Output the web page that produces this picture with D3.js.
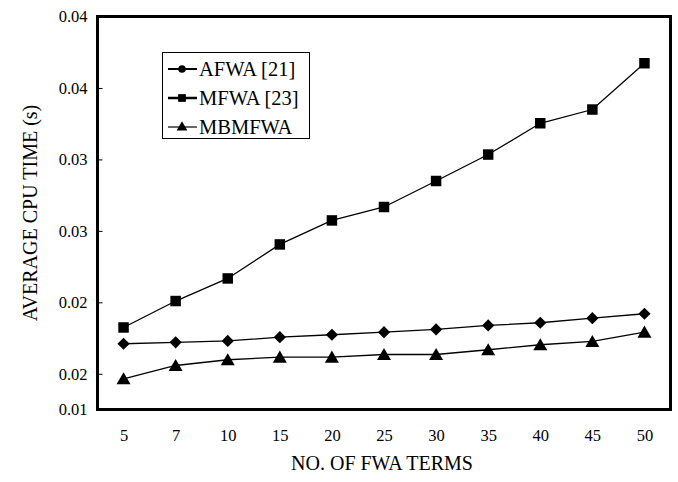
<!DOCTYPE html>
<html>
<head>
<meta charset="utf-8">
<script src="https://cdn.jsdelivr.net/npm/d3@7"></script>
<style>
  html, body { margin: 0; padding: 0; background: #fff; }
  svg { display: block; }
  svg text { font-family: "Liberation Serif", "Times New Roman", "DejaVu Serif", serif !important; }
</style>
</head>
<body>
<svg id="chart" width="678" height="482"></svg>
<script>
// ---- data ----
const categories = ["5", "7", "10", "15", "20", "25", "30", "35", "40", "45", "50"];
const afwa    = [0.0171, 0.0172, 0.0173, 0.01756, 0.01773, 0.01791, 0.0181, 0.01838, 0.01857, 0.01889, 0.0192];
const mfwa    = [0.01824, 0.02009, 0.02167, 0.02405, 0.02573, 0.02667, 0.02849, 0.03034, 0.03253, 0.03349, 0.03673];
const mbmfwa  = [0.01465, 0.01558, 0.01598, 0.01616, 0.01616, 0.01635, 0.01635, 0.01668, 0.01703, 0.01726, 0.01791];
const seriesNames = ["AFWA [21]", "MFWA [23]", "MBMFWA"];
const yTickValues = [0.0125, 0.015, 0.02, 0.025, 0.03, 0.035, 0.04];
const yTickLabels = ["0.01", "0.02", "0.02", "0.03", "0.03", "0.04", "0.04"];
const xTitle = "NO. OF FWA TERMS";
const yTitle = "AVERAGE CPU TIME (s)";

const FONT = "'Liberation Serif', 'Times New Roman', serif";

// ---- layout ----
const svg = d3.select("#chart");
const L = 97.5, R = 670.5, T = 16.5, B = 409.5;

const x = d3.scalePoint().domain(categories).range([L, R]).padding(0.5);
const y = d3.scaleLinear().domain([0.0125, 0.04]).range([B, T]);

// y axis (inner ticks)
const yAxis = d3.axisLeft(y)
  .tickValues(yTickValues)
  .tickSize(-5)
  .tickPadding(10)
  .tickFormat((d, i) => yTickLabels[i]);
const gy = svg.append("g").attr("transform", `translate(${L},0)`).call(yAxis)
  .attr("font-family", FONT);
gy.select(".domain").remove();
gy.selectAll(".tick line").attr("stroke", "#000").attr("stroke-width", 1);
gy.selectAll(".tick text").attr("font-size", 16.5).attr("fill", "#000")
  .attr("font-family", FONT);

// x axis
const xAxis = d3.axisBottom(x).tickSize(0).tickPadding(20);
const gx = svg.append("g").attr("transform", `translate(0,${B})`).call(xAxis)
  .attr("font-family", FONT);
gx.select(".domain").remove();
gx.selectAll(".tick text").attr("font-size", 16.5).attr("fill", "#000")
  .attr("font-family", FONT);

// plot frame
svg.append("rect")
  .attr("x", L).attr("y", T).attr("width", R - L).attr("height", B - T)
  .attr("fill", "none").attr("stroke", "#000").attr("stroke-width", 3);

// axis titles
svg.append("text")
  .attr("x", (L + R) / 2 - 2).attr("y", 470)
  .attr("text-anchor", "middle").attr("font-size", 20).attr("fill", "#000")
  .attr("font-family", FONT)
  .text(xTitle);
svg.append("text")
  .attr("transform", `translate(37,${(T + B) / 2}) rotate(-90)`)
  .attr("text-anchor", "middle").attr("font-size", 20).attr("fill", "#000")
  .attr("font-family", FONT)
  .text(yTitle);

// ---- series ----
const symbols = [d3.symbolDiamond2, d3.symbolSquare, d3.symbolTriangle];
const symSizes = [95, 110, 85];
const allSeries = [afwa, mfwa, mbmfwa];

const line = d3.line().x((d, i) => x(categories[i])).y(d => y(d));

allSeries.forEach((vals, si) => {
  svg.append("path")
    .datum(vals)
    .attr("fill", "none").attr("stroke", "#000").attr("stroke-width", 1.3)
    .attr("d", line);
  svg.append("g").selectAll("path")
    .data(vals)
    .join("path")
    .attr("transform", (d, i) => `translate(${x(categories[i])},${y(d) + (si === 2 ? 1.5 : 0)})`)
    .attr("d", d3.symbol().type(symbols[si]).size(symSizes[si]))
    .attr("fill", "#000");
});

// ---- legend ----
const lg = svg.append("g");
lg.append("rect")
  .attr("x", 162.5).attr("y", 52.5).attr("width", 147).attr("height", 86)
  .attr("fill", "#fff").attr("stroke", "#000").attr("stroke-width", 1);
const legendSym = [d3.symbolCircle, d3.symbolSquare, d3.symbolTriangle];
const legendSizes = [45, 60, 50];
const legendStroke = [2, 2.5, 1.2];
seriesNames.forEach((name, i) => {
  const cy = 69 + i * 29;
  lg.append("line")
    .attr("x1", 168).attr("x2", 197).attr("y1", cy).attr("y2", cy)
    .attr("stroke", "#000").attr("stroke-width", legendStroke[i]);
  lg.append("path")
    .attr("transform", `translate(182,${cy + (i === 2 ? 0.5 : 0)})`)
    .attr("d", d3.symbol().type(legendSym[i]).size(legendSizes[i]))
    .attr("fill", "#000");
  lg.append("text")
    .attr("x", 199).attr("y", cy).attr("dy", "0.35em")
    .attr("font-size", 20.5).attr("fill", "#000")
    .attr("font-family", FONT)
    .text(name);
});
</script>
</body>
</html>
